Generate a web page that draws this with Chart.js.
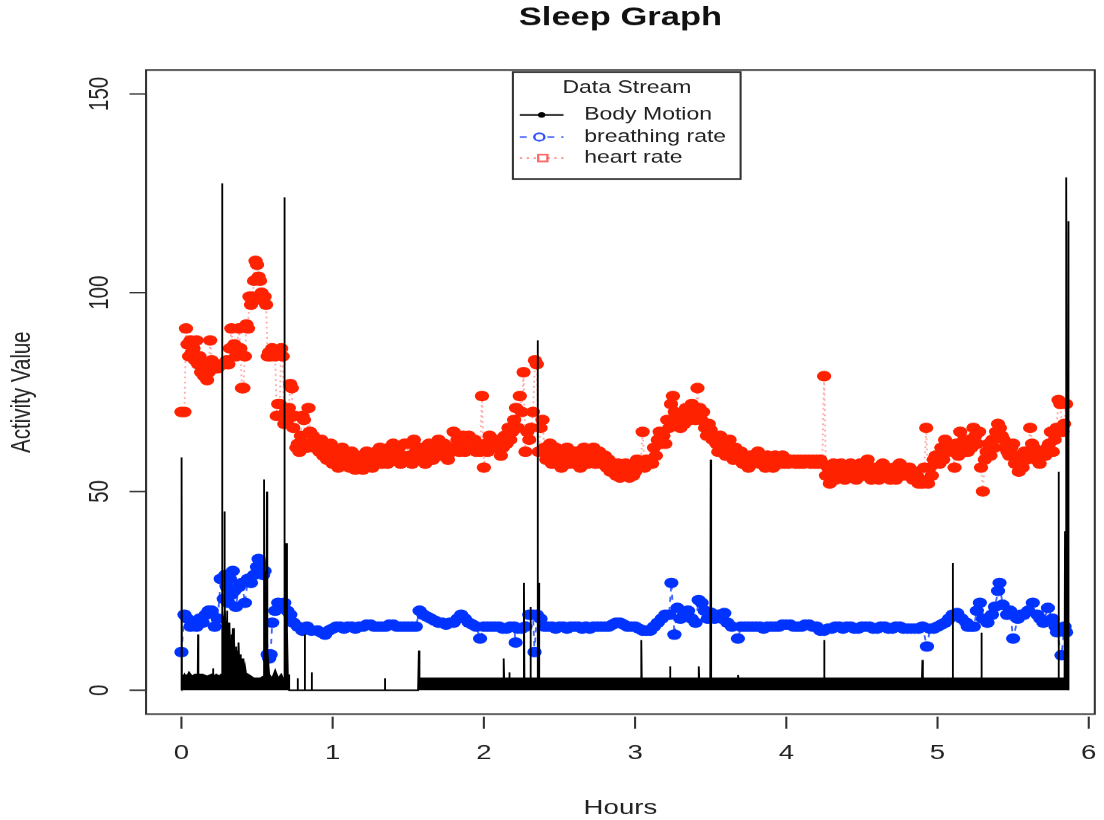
<!DOCTYPE html>
<html>
<head>
<meta charset="utf-8">
<script src="https://cdn.jsdelivr.net/npm/chart.js@4/dist/chart.umd.min.js"></script>
<style>
  html { overflow: hidden; background: #fff; }
  body { margin: 0; padding: 0; width: 1104px; height: 820px; background: #fff; }
  /* the original R plot is 480x480, stretched to 1104x820 */
  #wrap { width: 480px; height: 480px; transform: scale(2.3, 1.70833); transform-origin: 0 0; }
</style>
</head>
<body>
<div id="wrap"><canvas id="grafico" width="480" height="480"></canvas></div>
<script>
const xTicks = [0, 1, 2, 3, 4, 5, 6];
const yTicks = [0, 50, 100, 150];

// body motion (hours, value)
const motionTime = [
  0, 0.001, 0.003, 0.02, 0.03, 0.05, 0.07, 0.09, 0.108, 0.11,
  0.112, 0.14, 0.17, 0.2, 0.208, 0.21, 0.212, 0.23, 0.25, 0.262,
  0.268, 0.27, 0.272, 0.278, 0.282, 0.285, 0.29, 0.295, 0.30, 0.305,
  0.31, 0.315, 0.32, 0.325, 0.33, 0.335, 0.34, 0.345, 0.35, 0.355,
  0.36, 0.365, 0.37, 0.375, 0.38, 0.385, 0.39, 0.395, 0.40, 0.41,
  0.42, 0.43, 0.44, 0.46, 0.48, 0.50, 0.52, 0.54, 0.545, 0.548,
  0.555, 0.56, 0.565, 0.568, 0.58, 0.60, 0.62, 0.64, 0.66, 0.672,
  0.678, 0.682, 0.686, 0.692, 0.696, 0.70, 0.704, 0.71, 0.715, 0.765,
  0.768, 0.771, 0.812, 0.815, 0.818, 0.858, 0.861, 0.864, 1.342, 1.345,
  1.348, 1.565, 1.57, 1.574, 1.7, 1.8, 1.9, 2.0, 2.128, 2.131,
  2.134, 2.165, 2.168, 2.171, 2.262, 2.265, 2.268, 2.305, 2.308, 2.311,
  2.352, 2.355, 2.358, 2.362, 2.366, 2.45, 2.5, 2.55, 2.6, 2.65,
  2.7, 2.75, 2.8, 2.85, 2.9, 2.95, 3.0, 3.038, 3.041, 3.044,
  3.228, 3.231, 3.234, 3.418, 3.421, 3.424, 3.497, 3.5, 3.503, 3.678,
  3.681, 3.684, 4.247, 4.25, 4.253, 4.897, 4.9, 4.903, 5.097, 5.1,
  5.103, 5.287, 5.29, 5.293, 5.797, 5.8, 5.803, 5.84, 5.843, 5.846,
  5.852, 5.855, 5.858, 5.862, 5.866, 5.87
];
const motionValues = [
  0, 58.6, 3, 4, 3, 4.5, 3.5, 4, 4, 14,
  4, 4, 3.5, 4, 4, 5.5, 3.5, 4, 3.5, 4,
  8, 127.5, 20, 15, 45, 18, 22, 12, 20, 10,
  17, 8, 16, 7, 14, 6, 15.6, 5, 13, 5,
  11, 4, 10, 4, 12, 4, 9, 3.5, 8, 3.5,
  6, 3.5, 4, 3.5, 3, 3, 3, 3.5, 53, 12,
  30, 8, 50, 10, 4, 3, 5, 3, 4, 3,
  20, 124, 8, 37, 6, 15, 3, 4, 0, 0,
  3, 0, 0, 14, 0, 0, 4.5, 0, 0, 3,
  0, 0, 10, 3, 3, 3, 3, 3, 3, 8,
  3, 3, 4.5, 3, 3, 27, 3, 3, 21, 3,
  3, 88, 3, 27, 3, 3, 3, 3, 3, 3,
  3, 3, 3, 3, 3, 3, 3, 3, 12.6, 3,
  3, 6, 3, 3, 6, 3, 3, 58, 3, 3,
  3.8, 3, 3, 12.6, 3, 3, 7.6, 3, 3, 32,
  3, 3, 14.5, 3, 3, 55, 3, 3, 40, 3,
  3, 129, 3, 118, 3, 0
];

// heart rate
const heartTime = [
  0, 0.02, 0.03, 0.04, 0.05, 0.06, 0.07, 0.08, 0.09, 0.10,
  0.11, 0.12, 0.13, 0.14, 0.15, 0.16, 0.17, 0.18, 0.19, 0.20,
  0.22, 0.24, 0.26, 0.28, 0.30, 0.31, 0.32, 0.33, 0.34, 0.35,
  0.36, 0.38, 0.39, 0.40, 0.41, 0.42, 0.43, 0.44, 0.45, 0.46,
  0.47, 0.48, 0.49, 0.50, 0.51, 0.52, 0.53, 0.54, 0.55, 0.56,
  0.57, 0.58, 0.59, 0.60, 0.61, 0.62, 0.63, 0.64, 0.65, 0.66,
  0.67, 0.68, 0.69, 0.70, 0.71, 0.72, 0.73, 0.74, 0.75, 0.76,
  0.77, 0.78, 0.79, 0.80, 0.81, 0.82, 0.83, 0.84, 0.85, 0.86,
  0.87, 0.88, 0.89,
  0.9, 0.9125, 0.925, 0.9375, 0.95, 0.9625, 0.975, 0.9875,
  1.0, 1.0125, 1.025, 1.0375, 1.05, 1.0625, 1.075, 1.0875,
  1.1, 1.1125, 1.125, 1.1375, 1.15, 1.1625, 1.175, 1.1875,
  1.2, 1.2125, 1.225, 1.2375, 1.25, 1.2625, 1.275, 1.2875,
  1.3, 1.3125, 1.325, 1.3375, 1.35, 1.3625, 1.375, 1.3875,
  1.4, 1.4125, 1.425, 1.4375, 1.45, 1.4625, 1.475, 1.4875,
  1.5, 1.5125, 1.525, 1.5375, 1.55, 1.5625, 1.575, 1.5875,
  1.6, 1.6125, 1.625, 1.6375, 1.65, 1.6625, 1.675, 1.6875,
  1.7, 1.7125, 1.725, 1.7375, 1.75, 1.7625, 1.775, 1.7875,
  1.8, 1.8125, 1.825, 1.8375, 1.85, 1.8625, 1.875, 1.8875,
  1.9, 1.9125, 1.925, 1.9375, 1.95, 1.9625, 1.975, 1.9875,
  2.0, 2.0125, 2.025, 2.0375, 2.05, 2.0625, 2.075, 2.0875,
  2.1, 2.1125, 2.125, 2.1375, 2.15, 2.1625, 2.175, 2.1875,
  2.2, 2.2125, 2.225, 2.2375, 2.25, 2.2625, 2.275, 2.2875,
  2.3, 2.3125, 2.325, 2.3375, 2.35, 2.3625, 2.375, 2.3875,
  2.4, 2.4125, 2.425, 2.4375, 2.45, 2.4625, 2.475, 2.4875,
  2.5, 2.5125, 2.525, 2.5375, 2.55, 2.5625, 2.575, 2.5875,
  2.6, 2.6125, 2.625, 2.6375, 2.65, 2.6625, 2.675, 2.6875,
  2.7, 2.7125, 2.725, 2.7375, 2.75, 2.7625, 2.775, 2.7875,
  2.8, 2.8125, 2.825, 2.8375, 2.85, 2.8625, 2.875, 2.8875,
  2.9, 2.9125, 2.925, 2.9375, 2.95, 2.9625, 2.975, 2.9875,
  3.0, 3.0125, 3.025, 3.0375, 3.05, 3.0625, 3.075, 3.0875,
  3.1, 3.1125, 3.125, 3.1375, 3.15, 3.1625, 3.175, 3.1875,
  3.2, 3.2125, 3.225, 3.2375, 3.25, 3.2625, 3.275, 3.2875,
  3.3, 3.3125, 3.325, 3.3375, 3.35, 3.3625, 3.375, 3.3875,
  3.4, 3.4125, 3.425, 3.4375, 3.45, 3.4625, 3.475, 3.4875,
  3.5, 3.5125, 3.525, 3.5375, 3.55, 3.5625, 3.575, 3.5875,
  3.6, 3.6125, 3.625, 3.6375, 3.65, 3.6625, 3.675, 3.6875,
  3.7, 3.7125, 3.725, 3.7375, 3.75, 3.7625, 3.775, 3.7875,
  3.8, 3.8125, 3.825, 3.8375, 3.85, 3.8625, 3.875, 3.8875,
  3.9, 3.9125, 3.925, 3.9375, 3.95, 3.9625, 3.975, 3.9875,
  4.0, 4.0125, 4.025, 4.0375, 4.05, 4.0625, 4.075, 4.0875,
  4.1, 4.1125, 4.125, 4.1375, 4.15, 4.1625, 4.175, 4.1875,
  4.2, 4.2125, 4.225, 4.2375, 4.25, 4.2625, 4.275, 4.2875,
  4.3, 4.3125, 4.325, 4.3375, 4.35, 4.3625, 4.375, 4.3875,
  4.4, 4.4125, 4.425, 4.4375, 4.45, 4.4625, 4.475, 4.4875,
  4.5, 4.5125, 4.525, 4.5375, 4.55, 4.5625, 4.575, 4.5875,
  4.6, 4.6125, 4.625, 4.6375, 4.65, 4.6625, 4.675, 4.6875,
  4.7, 4.7125, 4.725, 4.7375, 4.75, 4.7625, 4.775, 4.7875,
  4.8, 4.8125, 4.825, 4.8375, 4.85, 4.8625, 4.875, 4.8875,
  4.9, 4.9125, 4.925, 4.9375, 4.95, 4.9625, 4.975, 4.9875,
  5.0, 5.0125, 5.025, 5.0375, 5.05, 5.0625, 5.075, 5.0875,
  5.1, 5.1125, 5.125, 5.1375, 5.15, 5.1625, 5.175, 5.1875,
  5.2, 5.2125, 5.225, 5.2375, 5.25, 5.2625, 5.275, 5.2875,
  5.3, 5.3125, 5.325, 5.3375, 5.35, 5.3625, 5.375, 5.3875,
  5.4, 5.4125, 5.425, 5.4375, 5.45, 5.4625, 5.475, 5.4875,
  5.5, 5.5125, 5.525, 5.5375, 5.55, 5.5625, 5.575, 5.5875,
  5.6, 5.6125, 5.625, 5.6375, 5.65, 5.6625, 5.675, 5.6875,
  5.7, 5.7125, 5.725, 5.7375, 5.75, 5.7625, 5.775, 5.7875,
  5.8, 5.8125, 5.825, 5.8375, 5.85
];
const heartValues = [
  70, 70, 91, 87, 84, 88, 85, 86, 83, 88,
  82, 84, 80, 82, 79, 81, 78, 80, 88, 83,
  81, 81, 82, 82, 83, 82, 86, 91, 86, 87,
  84, 91, 86, 76, 76, 84, 92, 91, 99, 97,
  99, 103, 108, 107, 104, 103, 100, 98, 99, 97,
  84, 85, 84, 86, 85, 84, 69, 72, 72, 86,
  84, 67, 70, 68, 71, 77, 76, 66, 69, 61,
  62, 60, 64, 69, 68, 62, 61, 71, 65, 62,
  64, 61, 63,
  62, 60, 63, 59, 61, 58, 60, 62,
  57, 60, 58, 56, 59, 61, 57, 59,
  58, 56, 60, 57, 55.5, 59, 57, 56,
  55.5, 58, 60, 57, 59, 56, 58, 60,
  58, 61, 57, 59, 60, 57, 61, 59,
  62, 58, 60, 61, 57, 59, 62, 58,
  62, 59, 57, 63, 60, 58, 61, 59,
  61, 57, 59, 62, 60, 58, 62, 60,
  63, 59, 61, 62, 60, 58, 61, 60,
  65, 61, 63, 60, 62, 64, 60, 61,
  64, 61, 62, 63, 60, 62, 60, 74,
  56, 62, 60, 64, 61, 63, 61, 62,
  63, 59, 61, 64, 62, 66, 63, 65,
  68, 71, 66, 74, 70, 80, 60, 65,
  63, 66, 70, 83, 82, 60, 66, 68,
  61, 58, 60, 62, 57, 59, 61, 58,
  59, 56, 60, 58, 61, 57, 59, 60,
  57, 60, 58, 56, 59, 61, 58, 57,
  60, 58, 61, 57, 59, 60, 57, 58,
  59, 56, 58, 55, 57, 56, 54, 57,
  53.5, 56, 54, 57, 55, 53.5, 56, 54,
  55, 58, 56, 57, 65, 56, 58, 57,
  58, 57, 61, 59, 63, 65, 62, 64,
  62, 68, 66, 72, 74, 70, 67, 69,
  66, 69, 67, 71, 70, 68, 72, 69,
  68, 76, 71, 68, 70, 66, 64, 67,
  65.5, 63, 64, 62, 60, 64, 61, 63,
  59, 62, 63, 60, 58, 61, 60, 59,
  60, 57, 59, 58, 56, 59, 57, 58,
  58, 60, 57, 59, 58, 56, 59, 57,
  58, 56, 59, 57, 58, 57, 59, 57,
  58, 57, 58, 57.5, 58, 57, 58, 57,
  58, 57, 58, 57.5, 58, 57, 58, 57,
  58, 57, 58, 57, 79, 54, 56, 52,
  55, 57, 53, 56, 54, 57, 55, 53,
  56, 55, 57, 54, 56, 53, 55, 57,
  56, 54, 55, 58, 55, 53, 56, 54,
  56, 53, 55, 57, 54, 56, 55, 53,
  54, 56, 53, 55, 57, 54, 56, 55,
  54, 56, 55, 53, 55, 54, 52, 53,
  52, 56, 66, 52, 56, 54, 58, 59,
  59, 57, 61, 58, 63, 60, 62, 61,
  60, 56, 62, 59, 65, 61, 63, 60,
  60, 63, 61, 66, 64, 62, 65, 56,
  50, 58, 60, 62, 59, 63, 61, 65,
  67, 66, 64, 63, 61, 60, 59, 61,
  62, 57, 59, 55, 58, 56, 60, 58,
  60, 66, 62, 61, 58, 60, 57, 59,
  60, 59, 61, 62, 65, 60, 63, 66,
  73, 72, 65, 67, 72
];

// breathing rate
const breathTime = [
  0, 0.02, 0.04, 0.06, 0.08, 0.10, 0.12, 0.14, 0.16, 0.18,
  0.20, 0.22, 0.24, 0.26, 0.28, 0.29, 0.30, 0.31, 0.32, 0.33,
  0.34, 0.35, 0.36, 0.38, 0.40, 0.42, 0.44, 0.46, 0.48, 0.50,
  0.51, 0.52, 0.54, 0.55, 0.57, 0.58, 0.59, 0.60, 0.62, 0.64,
  0.66, 0.68, 0.70, 0.72, 0.74, 0.77, 0.80, 0.83, 0.86, 0.90,
  0.925, 0.95, 0.975, 1.0, 1.025, 1.05, 1.075, 1.1, 1.125, 1.15,
  1.175, 1.2, 1.225, 1.25, 1.275, 1.3, 1.325, 1.35, 1.375, 1.4,
  1.425, 1.45, 1.475, 1.5, 1.525, 1.55, 1.575, 1.6, 1.625, 1.65,
  1.675, 1.7, 1.725, 1.75, 1.775, 1.8, 1.825, 1.85, 1.875, 1.9,
  1.925, 1.95, 1.975, 2.0, 2.025, 2.05, 2.075, 2.1, 2.125, 2.15,
  2.175, 2.2, 2.21, 2.225, 2.25, 2.275, 2.3, 2.325, 2.335, 2.35,
  2.375, 2.4, 2.425, 2.45, 2.475, 2.5, 2.525, 2.55, 2.575, 2.6,
  2.625, 2.65, 2.675, 2.7, 2.725, 2.75, 2.775, 2.8, 2.825, 2.85,
  2.875, 2.9, 2.925, 2.95, 2.975, 3.0, 3.025, 3.05, 3.075, 3.1,
  3.125, 3.15, 3.175, 3.2, 3.225, 3.24, 3.26, 3.28, 3.3, 3.325,
  3.35, 3.375, 3.4, 3.42, 3.44, 3.46, 3.48, 3.5, 3.525, 3.55,
  3.575, 3.59, 3.61, 3.64, 3.68, 3.7, 3.725, 3.75, 3.775, 3.8,
  3.825, 3.85, 3.875, 3.9, 3.925, 3.95, 3.975, 4.0, 4.025, 4.05,
  4.075, 4.1, 4.125, 4.15, 4.175, 4.2, 4.225, 4.25, 4.275, 4.3,
  4.325, 4.35, 4.375, 4.4, 4.425, 4.45, 4.475, 4.5, 4.525, 4.55,
  4.575, 4.6, 4.625, 4.65, 4.675, 4.7, 4.725, 4.75, 4.775, 4.8,
  4.825, 4.85, 4.875, 4.9, 4.93, 4.95, 4.975, 5.0, 5.025, 5.05,
  5.075, 5.1, 5.13, 5.16, 5.19, 5.2, 5.22, 5.24, 5.26, 5.28,
  5.3, 5.33, 5.36, 5.38, 5.4, 5.41, 5.43, 5.46, 5.48, 5.5,
  5.53, 5.55, 5.57, 5.6, 5.63, 5.66, 5.68, 5.7, 5.73, 5.76,
  5.78, 5.79, 5.82, 5.84, 5.85
];
const breathValues = [
  9.6, 19, 18, 16, 17, 16, 18, 17, 19, 20,
  20, 16, 18, 28, 23, 29, 26, 22, 28, 24,
  30, 25, 21, 26, 27, 22, 28, 27, 29, 31,
  33, 32, 29, 30, 9, 8, 9, 17, 20, 22,
  21, 22, 20, 19, 17, 16, 15, 16, 15, 15,
  14.5, 14, 15, 15.5, 16, 16, 15.5, 16, 16, 15.5,
  16, 16, 16.5, 16.5, 16, 16, 16, 16, 16.5, 16.5,
  16, 16, 16, 16, 16, 16, 20, 19, 18.5, 18,
  17.5, 17, 17, 16.5, 17, 17, 18, 19, 18, 17,
  16.5, 16, 13, 16, 16, 16, 16, 16, 15.5, 15.5,
  16, 16, 12, 15.5, 15.5, 16, 19, 19, 9.6, 19,
  18, 16, 16, 16, 15.5, 16, 16, 15.5, 16, 16,
  16, 15.5, 16, 15.5, 16, 16, 16, 16, 16, 16.5,
  17, 17, 16.5, 16, 16, 16, 15.5, 15, 15, 15,
  16, 17, 18, 19, 19, 27, 14, 20.7, 18, 19,
  20, 18, 17, 22.7, 22, 20, 18, 19.5, 18, 19,
  18, 19.4, 17, 16, 13, 16, 16, 16, 16, 16,
  16, 15.5, 16, 16, 16, 16, 16.5, 16.5, 16.5, 16,
  16, 16, 16.5, 16.5, 16, 16, 15, 15, 15.5, 15.5,
  16, 16, 15.5, 16, 16, 15.5, 15.5, 16, 16, 16,
  15.5, 15.5, 16, 16, 15.5, 15.5, 16, 16, 15.5, 15.5,
  15.5, 15.5, 15.5, 16, 11, 15.5, 15.5, 16, 16.5, 17,
  18, 19, 19.4, 18, 17, 16, 16, 16, 20, 22,
  18, 17, 19, 21, 25, 27, 21.5, 19, 20, 13,
  18, 19, 19, 20, 22, 19, 18, 17, 20.7, 18,
  16, 14.6, 8.8, 16, 14.6
];

function pares(tempos, valores){
    return tempos.map((t, i) => ({x: t, y: valores[i]}));
}

const fonte = '"Liberation Sans", Arial, Helvetica, sans-serif';

// R style frame, axes, titles and legend
const quadroR = {
    id: 'quadroR',
    afterDraw(chart){
        const ctx = chart.ctx;
        const a = chart.chartArea;
        const x = chart.scales.x;
        const y = chart.scales.y;

        ctx.save();
        ctx.strokeStyle = '#333';
        ctx.lineWidth = 0.9;
        ctx.strokeRect(a.left, a.top, a.right - a.left, a.bottom - a.top);

        ctx.beginPath();
        ctx.moveTo(a.left, y.getPixelForValue(yTicks[0]));
        ctx.lineTo(a.left, y.getPixelForValue(yTicks[yTicks.length - 1]));
        yTicks.forEach(v => {
            const py = y.getPixelForValue(v);
            ctx.moveTo(a.left - 7.2, py);
            ctx.lineTo(a.left, py);
        });
        xTicks.forEach(v => {
            const px = x.getPixelForValue(v);
            ctx.moveTo(px, a.bottom + 1.5);
            ctx.lineTo(px, a.bottom + 8.5);
        });
        ctx.stroke();

        ctx.fillStyle = '#222';
        ctx.font = '12px ' + fonte;
        ctx.textAlign = 'center';
        ctx.textBaseline = 'middle';
        xTicks.forEach(v => {
            ctx.fillText(String(v), x.getPixelForValue(v), 441);
        });
        yTicks.forEach(v => {
            ctx.save();
            ctx.translate(43.5, y.getPixelForValue(v));
            ctx.rotate(-Math.PI / 2);
            ctx.fillText(String(v), 0, 0);
            ctx.restore();
        });

        // axis titles
        ctx.fillText('Hours', (a.left + a.right) / 2, 473);
        ctx.save();
        ctx.translate(9.6, (a.top + a.bottom) / 2);
        ctx.rotate(-Math.PI / 2);
        ctx.fillText('Activity Value', 0, 0);
        ctx.restore();

        ctx.font = 'bold 15px ' + fonte;
        ctx.fillStyle = '#111';
        ctx.fillText('Sleep Graph', (a.left + a.right) / 2, 10.5);

        // legend
        ctx.fillStyle = '#fff';
        ctx.fillRect(223, 42.2, 99, 62.6);
        ctx.strokeStyle = '#333';
        ctx.lineWidth = 0.9;
        ctx.strokeRect(223, 42.2, 99, 62.6);
        ctx.fillStyle = '#222';
        ctx.font = '10px ' + fonte;
        ctx.fillText('Data Stream', 272.6, 51.5);

        const linhas = [67.3, 80.2, 92.5];
        ctx.textAlign = 'left';
        ctx.fillText('Body Motion', 254, linhas[0]);
        ctx.fillText('breathing rate', 254, linhas[1]);
        ctx.fillText('heart rate', 254, linhas[2]);

        ctx.lineWidth = 0.8;
        ctx.strokeStyle = '#000';
        ctx.beginPath();
        ctx.moveTo(226, linhas[0]);
        ctx.lineTo(245, linhas[0]);
        ctx.stroke();
        ctx.fillStyle = '#000';
        ctx.beginPath();
        ctx.arc(235.5, linhas[0], 1.6, 0, Math.PI * 2);
        ctx.fill();

        ctx.strokeStyle = '#2b4dff';
        ctx.setLineDash([3, 3]);
        ctx.beginPath();
        ctx.moveTo(226, linhas[1]);
        ctx.lineTo(245, linhas[1]);
        ctx.stroke();
        ctx.setLineDash([]);
        ctx.fillStyle = '#fff';
        ctx.beginPath();
        ctx.arc(234.5, linhas[1], 2.2, 0, Math.PI * 2);
        ctx.fill();
        ctx.lineWidth = 1;
        ctx.stroke();

        ctx.strokeStyle = 'rgba(255,60,60,0.55)';
        ctx.setLineDash([1, 2]);
        ctx.beginPath();
        ctx.moveTo(226, linhas[2]);
        ctx.lineTo(245, linhas[2]);
        ctx.stroke();
        ctx.setLineDash([]);
        ctx.fillStyle = '#fff';
        ctx.fillRect(234, linhas[2] - 2, 4, 4);
        ctx.strokeStyle = 'rgba(255,40,40,0.7)';
        ctx.strokeRect(234, linhas[2] - 2, 4, 4);

        ctx.restore();
    }
};

new Chart(document.getElementById('grafico'), {
    type: 'line',
    data: {
        datasets: [
            {
                label: 'Body Motion',
                data: pares(motionTime, motionValues),
                borderColor: '#000',
                backgroundColor: '#000',
                borderWidth: 0.8,
                pointRadius: 0,
                fill: 'origin',
                tension: 0
            },
            {
                label: 'breathing rate',
                data: pares(breathTime, breathValues),
                borderColor: 'rgba(0,51,255,0.75)',
                borderWidth: 0.8,
                borderDash: [3, 3],
                pointRadius: 3.1,
                pointBorderWidth: 0,
                pointBackgroundColor: '#0033ff',
                fill: false,
                tension: 0
            },
            {
                label: 'heart rate',
                data: pares(heartTime, heartValues),
                borderColor: 'rgba(255,60,60,0.45)',
                borderWidth: 0.8,
                borderDash: [1, 2],
                pointRadius: 3.1,
                pointBorderWidth: 0,
                pointBackgroundColor: '#ff2200',
                fill: false,
                tension: 0
            }
        ]
    },
    options: {
        responsive: false,
        animation: false,
        devicePixelRatio: 2.3,
        layout: { padding: { left: 63.5, right: 1.3, top: 41, bottom: 62 } },
        scales: {
            x: { type: 'linear', display: false, min: -0.234, max: 6.04 },
            y: { type: 'linear', display: false, min: -6, max: 156 }
        },
        plugins: {
            legend: { display: false },
            tooltip: { enabled: false },
            title: { display: false }
        }
    },
    plugins: [quadroR]
});
</script>
</body>
</html>
